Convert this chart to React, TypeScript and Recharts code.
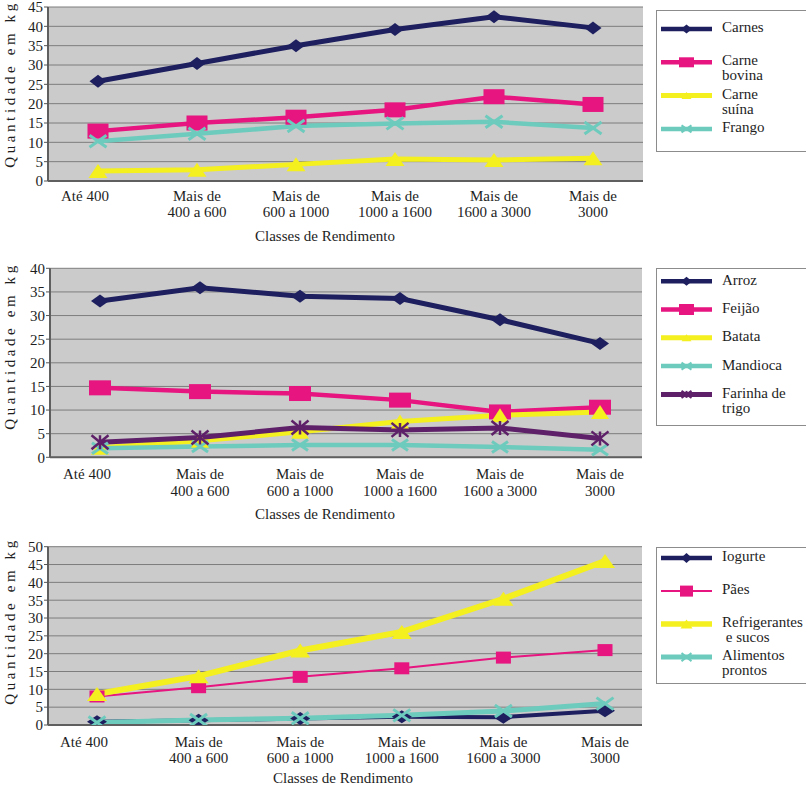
import React from 'react';
import { LineChart, Line, XAxis, YAxis, CartesianGrid, Legend, Label } from 'recharts';

// ---------- data ----------
const categories = [
  'Até 400',
  'Mais de\n400 a 600',
  'Mais de\n600 a 1000',
  'Mais de\n1000 a 1600',
  'Mais de\n1600 a 3000',
  'Mais de\n3000',
];

const carnes = [25.8, 30.4, 35.0, 39.2, 42.5, 39.6];
const carneBovina = [12.9, 15.0, 16.5, 18.4, 21.8, 19.8];
const carneSuina = [2.6, 2.9, 4.3, 5.7, 5.4, 5.9];
const frango = [10.3, 12.2, 14.2, 14.9, 15.3, 13.7];

const arroz = [33.1, 35.9, 34.1, 33.6, 29.1, 24.1];
const feijao = [14.7, 13.9, 13.5, 12.1, 9.6, 10.6];
const batata = [2.0, 3.5, 5.4, 7.6, 8.9, 9.6];
const mandioca = [1.9, 2.3, 2.6, 2.6, 2.2, 1.6];
const farinha = [3.2, 4.2, 6.3, 5.8, 6.2, 4.0];

const iogurte = [0.9, 1.3, 1.8, 2.3, 2.2, 4.0];
const paes = [8.0, 10.6, 13.5, 15.9, 18.9, 21.0];
const refrigerantes = [8.7, 13.7, 20.9, 26.1, 35.4, 46.0];
const alimentosProntos = [0.7, 1.4, 1.9, 2.7, 3.9, 6.0];

const yTicks1 = [0, 5, 10, 15, 20, 25, 30, 35, 40, 45];
const yTicks2 = [0, 5, 10, 15, 20, 25, 30, 35, 40];
const yTicks3 = [0, 5, 10, 15, 20, 25, 30, 35, 40, 45, 50];

const yAxisTitle = 'Quantidade em kg';
const xAxisTitle = 'Classes de Rendimento';

// ---------- styles ----------
const FONT = '"Liberation Serif", "Times New Roman", Times, serif';
const TEXT = '#1e1e1e';
const NAVY = '#1d1f5f';
const MAGENTA = '#e6157f';
const YELLOW = '#f4ef1e';
const TEAL = '#6dcbbd';
const PURPLE = '#5e2068';
const PLOT_BG = '#cbcbcb';

type Shape = 'diamond' | 'square' | 'triangle' | 'x' | 'star';

interface Series {
  key: string;
  name: string[];
  values: number[];
  color: string;
  width: number;
  shape: Shape;
  mw: number;
  mh: number;
  msw: number;
  lmw: number;
  lmh: number;
  lw: number;
}

function Marker({ shape, cx, cy, w, h, color, sw }: { shape: Shape; cx: number; cy: number; w: number; h: number; color: string; sw: number }) {
  if (cx == null || cy == null || isNaN(cx) || isNaN(cy)) return <g />;
  switch (shape) {
    case 'diamond':
      return <polygon points={`${cx},${cy - h / 2} ${cx + w / 2},${cy} ${cx},${cy + h / 2} ${cx - w / 2},${cy}`} fill={color} />;
    case 'square':
      return <rect x={cx - w / 2} y={cy - h / 2} width={w} height={h} fill={color} />;
    case 'triangle':
      return <polygon points={`${cx},${cy - h / 2} ${cx + w / 2},${cy + h / 2} ${cx - w / 2},${cy + h / 2}`} fill={color} />;
    case 'x':
      return (
        <g stroke={color} strokeWidth={sw} strokeLinecap="butt">
          <line x1={cx - w / 2} y1={cy - h / 2} x2={cx + w / 2} y2={cy + h / 2} />
          <line x1={cx - w / 2} y1={cy + h / 2} x2={cx + w / 2} y2={cy - h / 2} />
        </g>
      );
    case 'star':
    default:
      return (
        <g stroke={color} strokeWidth={sw} strokeLinecap="butt">
          <line x1={cx - w / 2} y1={cy - h / 2} x2={cx + w / 2} y2={cy + h / 2} />
          <line x1={cx - w / 2} y1={cy + h / 2} x2={cx + w / 2} y2={cy - h / 2} />
          <line x1={cx} y1={cy - h / 2} x2={cx} y2={cy + h / 2} />
        </g>
      );
  }
}

const series1: Series[] = [
  { key: 'carnes', name: ['Carnes'], values: carnes, color: NAVY, width: 5, shape: 'diamond', mw: 17, mh: 13, msw: 0, lmw: 11, lmh: 9, lw: 4.5 },
  { key: 'bovina', name: ['Carne', 'bovina'], values: carneBovina, color: MAGENTA, width: 4.5, shape: 'square', mw: 21, mh: 15, msw: 0, lmw: 15, lmh: 10, lw: 4.5 },
  { key: 'suina', name: ['Carne', 'suína'], values: carneSuina, color: YELLOW, width: 5, shape: 'triangle', mw: 19, mh: 14, msw: 0, lmw: 10, lmh: 7, lw: 5 },
  { key: 'frango', name: ['Frango'], values: frango, color: TEAL, width: 4.5, shape: 'x', mw: 17, mh: 12, msw: 3, lmw: 10, lmh: 7, lw: 4.5 },
];

const series2: Series[] = [
  { key: 'arroz', name: ['Arroz'], values: arroz, color: NAVY, width: 5, shape: 'diamond', mw: 18, mh: 13, msw: 0, lmw: 11, lmh: 9, lw: 4.5 },
  { key: 'feijao', name: ['Feijão'], values: feijao, color: MAGENTA, width: 4.5, shape: 'square', mw: 22, mh: 15, msw: 0, lmw: 15, lmh: 11, lw: 4.5 },
  { key: 'batata', name: ['Batata'], values: batata, color: YELLOW, width: 5, shape: 'triangle', mw: 18, mh: 14, msw: 0, lmw: 10, lmh: 7, lw: 5 },
  { key: 'mandioca', name: ['Mandioca'], values: mandioca, color: TEAL, width: 4.5, shape: 'x', mw: 16, mh: 11, msw: 3, lmw: 10, lmh: 7, lw: 4.5 },
  { key: 'farinha', name: ['Farinha de', 'trigo'], values: farinha, color: PURPLE, width: 5, shape: 'star', mw: 17, mh: 14, msw: 2.5, lmw: 10, lmh: 7, lw: 5 },
];

const series3: Series[] = [
  { key: 'iogurte', name: ['Iogurte'], values: iogurte, color: NAVY, width: 4, shape: 'diamond', mw: 20, mh: 13, msw: 0, lmw: 11, lmh: 10, lw: 4.5 },
  { key: 'paes', name: ['Pães'], values: paes, color: MAGENTA, width: 2, shape: 'square', mw: 15, mh: 12, msw: 0, lmw: 13, lmh: 11, lw: 2 },
  { key: 'refri', name: ['Refrigerantes', ' e sucos'], values: refrigerantes, color: YELLOW, width: 6, shape: 'triangle', mw: 20, mh: 14, msw: 0, lmw: 12, lmh: 9, lw: 5.5 },
  { key: 'prontos', name: ['Alimentos', 'prontos'], values: alimentosProntos, color: TEAL, width: 5, shape: 'x', mw: 17, mh: 12, msw: 3, lmw: 10, lmh: 8, lw: 5 },
];

function buildRows(series: Series[]) {
  return categories.map((cat, i) => {
    const row: Record<string, any> = { cat, idx: i };
    series.forEach((s) => {
      row[s.key] = s.values[i];
    });
    return row;
  });
}

function LegendBox({ series, height, firstBaseline, spacing, sampleOffset }: { series: Series[]; height: number; firstBaseline: number; spacing: number; sampleOffset: number }) {
  return (
    <svg width={152} height={height} style={{ display: 'block', overflow: 'visible' }}>
      <rect x={0.5} y={0.5} width={165} height={height - 1} fill="#ffffff" stroke="#8c8c8c" strokeWidth={1} />
      {series.map((s, i) => {
        const b = firstBaseline + i * spacing;
        const ly = b - sampleOffset;
        return (
          <g key={s.key}>
            <line x1={5} x2={56} y1={ly} y2={ly} stroke={s.color} strokeWidth={s.lw} />
            <Marker shape={s.shape} cx={30.5} cy={ly} w={s.lmw} h={s.lmh} color={s.color} sw={2} />
            <text x={66} y={b} fontFamily={FONT} fontSize={15} fill={TEXT} style={{ whiteSpace: 'pre' }}>
              {s.name.map((n, j) => (
                <tspan key={j} x={66} dy={j === 0 ? 0 : 15}>
                  {n}
                </tspan>
              ))}
            </text>
          </g>
        );
      })}
    </svg>
  );
}

interface PanelProps {
  top: number;
  height: number;
  plotTop: number;
  plotBottom: number;
  plotLeft: number;
  plotRight: number;
  padL: number;
  padR: number;
  yMax: number;
  yTicks: number[];
  series: Series[];
  tickGap: number;
  lineGap: number;
  titleX: number;
  titleY: number;
  yLabelCy: number;
  legendTop: number;
  legendHeight: number;
  legendFirst: number;
  legendSpacing: number;
  legendSample: number;
}

function Panel(p: PanelProps) {
  const rows = buildRows(p.series);
  const CatTick = (props: any) => {
    const { x, y, payload, index } = props;
    const lines = String(payload.value).split('\n');
    const dx = index === 0 ? -13 : 0;
    return (
      <text x={x + dx} y={y + p.tickGap} textAnchor="middle" fontFamily={FONT} fontSize={15} fill={TEXT}>
        {lines.map((l, i) => (
          <tspan key={i} x={x + dx} dy={i === 0 ? 0 : p.lineGap}>
            {l}
          </tspan>
        ))}
      </text>
    );
  };
  return (
    <div style={{ position: 'absolute', left: 0, top: p.top, width: 806, height: p.height }}>
      <LineChart
        width={806}
        height={p.height}
        data={rows}
        margin={{ top: p.plotTop, right: 806 - p.plotRight, bottom: 0, left: 0 }}
      >
        <CartesianGrid vertical={false} fill={PLOT_BG} fillOpacity={1} stroke="#7d7d7d" strokeWidth={1} />
        <XAxis
          xAxisId={0}
          dataKey="idx"
          type="number"
          domain={[0, 5]}
          ticks={[0.5, 1.5, 2.5, 3.5, 4.5]}
          allowDataOverflow
          padding={{ left: p.padL, right: p.padR }}
          height={0}
          axisLine={false}
          tick={false}
          tickLine={{ stroke: '#555555', strokeWidth: 1 }}
          tickSize={4}
        />
        <XAxis
          xAxisId="c"
          dataKey="cat"
          type="category"
          interval={0}
          height={p.height - p.plotBottom}
          padding={{ left: p.padL, right: p.padR }}
          axisLine={{ stroke: '#5f5f5f', strokeWidth: 2 }}
          tickLine={false}
          tickSize={0}
          tickMargin={0}
          tick={<CatTick />}
        >
          <Label
            content={() => (
              <text x={p.titleX} y={p.titleY} textAnchor="middle" fontFamily={FONT} fontSize={15} fill={TEXT}>
                {xAxisTitle}
              </text>
            )}
          />
        </XAxis>
        <YAxis
          yAxisId={0}
          width={p.plotLeft}
          domain={[0, p.yMax]}
          ticks={p.yTicks}
          interval={0}
          allowDataOverflow
          axisLine={{ stroke: '#5f5f5f', strokeWidth: 2 }}
          tickLine={{ stroke: '#555555', strokeWidth: 1 }}
          tickSize={4}
          tickMargin={1}
          tick={{ fontFamily: FONT, fontSize: 15, fill: TEXT }}
        >
          <Label
            content={() => (
              <text
                transform={`translate(15, ${p.yLabelCy}) rotate(-90)`}
                textAnchor="middle"
                fontFamily={FONT}
                fontSize={15}
                fill={TEXT}
                letterSpacing={3.6}
              >
                {yAxisTitle}
              </text>
            )}
          />
        </YAxis>
        <YAxis
          yAxisId="r"
          orientation="right"
          width={0}
          domain={[0, p.yMax]}
          tick={false}
          tickLine={false}
          axisLine={{ stroke: '#7d7d7d', strokeWidth: 2 }}
        />
        {p.series.map((s) => (
          <Line
            key={s.key}
            xAxisId="c"
            yAxisId={0}
            type="linear"
            dataKey={s.key}
            name={s.name.join(' ')}
            stroke={s.color}
            strokeWidth={s.width}
            isAnimationActive={false}
            activeDot={false}
            dot={(dp: any) => (
              <Marker
                key={`${s.key}-${dp.index}`}
                shape={s.shape}
                cx={dp.cx}
                cy={dp.cy}
                w={s.mw}
                h={s.mh}
                color={s.color}
                sw={s.msw}
              />
            )}
          />
        ))}
        <Legend
          layout="vertical"
          align="center"
          verticalAlign="middle"
          wrapperStyle={{ left: 656, top: p.legendTop, width: 152, height: p.legendHeight }}
          content={() => (
            <LegendBox
              series={p.series}
              height={p.legendHeight}
              firstBaseline={p.legendFirst}
              spacing={p.legendSpacing}
              sampleOffset={p.legendSample}
            />
          )}
        />
      </LineChart>
    </div>
  );
}

export default function App() {
  return (
    <div style={{ position: 'absolute', left: 0, top: 0, width: 806, height: 787, overflow: 'hidden', background: '#ffffff' }}>
      <Panel
        top={0}
        height={250}
        plotTop={7}
        plotBottom={181}
        plotLeft={48}
        plotRight={643}
        padL={50}
        padR={50}
        yMax={45}
        yTicks={yTicks1}
        series={series1}
        tickGap={20}
        lineGap={16}
        titleX={325}
        titleY={241}
        yLabelCy={84}
        legendTop={10}
        legendHeight={142}
        legendFirst={22}
        legendSpacing={33.3}
        legendSample={3}
      />
      <Panel
        top={250}
        height={275}
        plotTop={18.3}
        plotBottom={207.3}
        plotLeft={50}
        plotRight={642}
        padL={50}
        padR={42}
        yMax={40}
        yTicks={yTicks2}
        series={series2}
        tickGap={22}
        lineGap={16.5}
        titleX={325}
        titleY={269}
        yLabelCy={96}
        legendTop={18.3}
        legendHeight={158}
        legendFirst={16.7}
        legendSpacing={28.3}
        legendSample={3.5}
      />
      <Panel
        top={520}
        height={267}
        plotTop={26.7}
        plotBottom={205}
        plotLeft={48}
        plotRight={642}
        padL={49}
        padR={37}
        yMax={50}
        yTicks={yTicks3}
        series={series3}
        tickGap={21.7}
        lineGap={16.3}
        titleX={343}
        titleY={263}
        yLabelCy={101}
        legendTop={27.3}
        legendHeight={137}
        legendFirst={14.4}
        legendSpacing={33}
        legendSample={3.3}
      />
    </div>
  );
}
